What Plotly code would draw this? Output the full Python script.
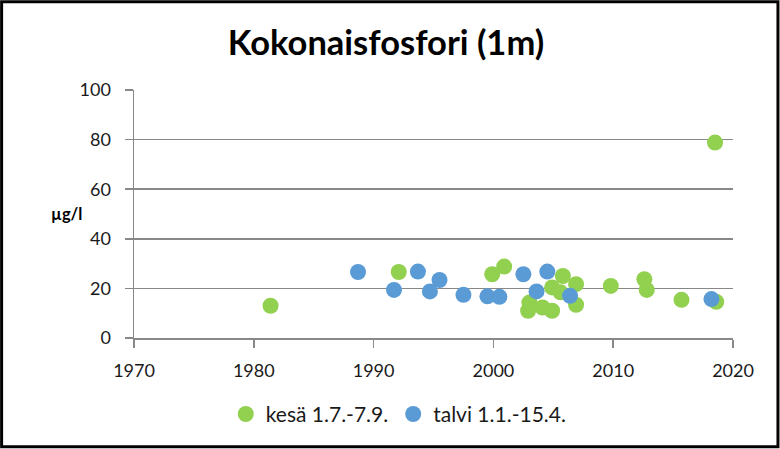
import plotly.graph_objects as go

kesa_year = [1981.4, 1992.1, 1999.9, 2000.9, 2002.9, 2003.0, 2004.1, 2004.9, 2004.9, 2005.6,
             2005.8, 2006.9, 2006.9, 2009.8, 2012.6, 2012.8, 2015.7, 2018.5, 2018.6]
kesa_val = [13.0, 26.6, 25.7, 28.8, 11.0, 14.3, 12.3, 11.0, 20.4, 18.4,
            25.0, 21.7, 13.4, 21.0, 23.7, 19.4, 15.4, 78.8, 14.6]

talvi_year = [1988.7, 1991.7, 1993.7, 1994.7, 1995.5, 1997.5, 1999.5, 2000.5, 2002.5,
              2003.6, 2004.5, 2006.4, 2018.2]
talvi_val = [26.6, 19.4, 26.8, 18.8, 23.4, 17.4, 16.8, 16.6, 25.7,
             18.8, 26.8, 17.0, 15.7]

x_ticks = [1970, 1980, 1990, 2000, 2010, 2020]
y_ticks = [0, 20, 40, 60, 80, 100]

W, H = 780, 449
ML, MR, MT, MB = 134, 46.5, 90, 110.5
PW, PH = W - ML - MR, H - MT - MB

FONT = "Lato"
GRID = "#888888"

fig = go.Figure()
fig.add_trace(go.Scatter(x=kesa_year, y=kesa_val, mode="markers", name="kesä 1.7.-7.9.",
                         marker=dict(color="#92D050", size=16, line=dict(width=0))))
fig.add_trace(go.Scatter(x=talvi_year, y=talvi_val, mode="markers", name="talvi 1.1.-15.4.",
                         marker=dict(color="#5B9BD5", size=16, line=dict(width=0))))

fig.update_layout(
    width=W, height=H,
    margin=dict(l=ML, r=MR, t=MT, b=MB, autoexpand=False),
    paper_bgcolor="white", plot_bgcolor="white",
    font=dict(family=FONT, size=18, color="#1a1a1a"),
    title=dict(text="<b>Kokonaisfosfori (1m)</b>", x=386 / W, xanchor="center",
               y=1 - 43 / H, yanchor="middle", font=dict(family=FONT, size=34.5, color="black")),
    showlegend=True,
    legend=dict(orientation="h", x=(399 - ML) / PW, xanchor="center",
                y=(H - MB - 415) / PH, yanchor="middle",
                font=dict(family=FONT, size=21, color="#1a1a1a"),
                itemwidth=30, bgcolor="rgba(0,0,0,0)"),
    xaxis=dict(range=[1970, 2020], tickvals=x_ticks, showgrid=False, zeroline=False,
               showline=True, linecolor=GRID, linewidth=1.5, ticks="outside",
               ticklen=8, tickcolor=GRID, tickwidth=1.5, ticklabelstandoff=8,
               fixedrange=True),
    yaxis=dict(range=[0, 100], tickvals=y_ticks, showgrid=True, gridcolor=GRID,
               gridwidth=1.5, zeroline=False, showline=True, linecolor=GRID,
               linewidth=1.5, ticks="outside", ticklen=8, tickcolor=GRID, tickwidth=1.5,
               ticklabelstandoff=10, fixedrange=True),
    annotations=[dict(text="<b>µg/l</b>", x=(66 - ML) / PW, xref="paper", xanchor="center",
                      y=(H - MB - 214) / PH, yref="paper", yanchor="middle",
                      showarrow=False, font=dict(family=FONT, size=16.5, color="black"))],
    shapes=[dict(type="rect", xref="paper", yref="paper",
                 x0=-(ML - 1.5) / PW, x1=1 + (MR - 1.5) / PW,
                 y0=-(MB - 1.5) / PH, y1=1 + (MT - 1.5) / PH,
                 line=dict(color="black", width=3), fillcolor="rgba(0,0,0,0)", layer="above")],
)

fig.write_html("out.html", config={"displayModeBar": False, "staticPlot": True},
               post_script="document.body.style.margin='0';document.body.style.overflow='hidden';")
